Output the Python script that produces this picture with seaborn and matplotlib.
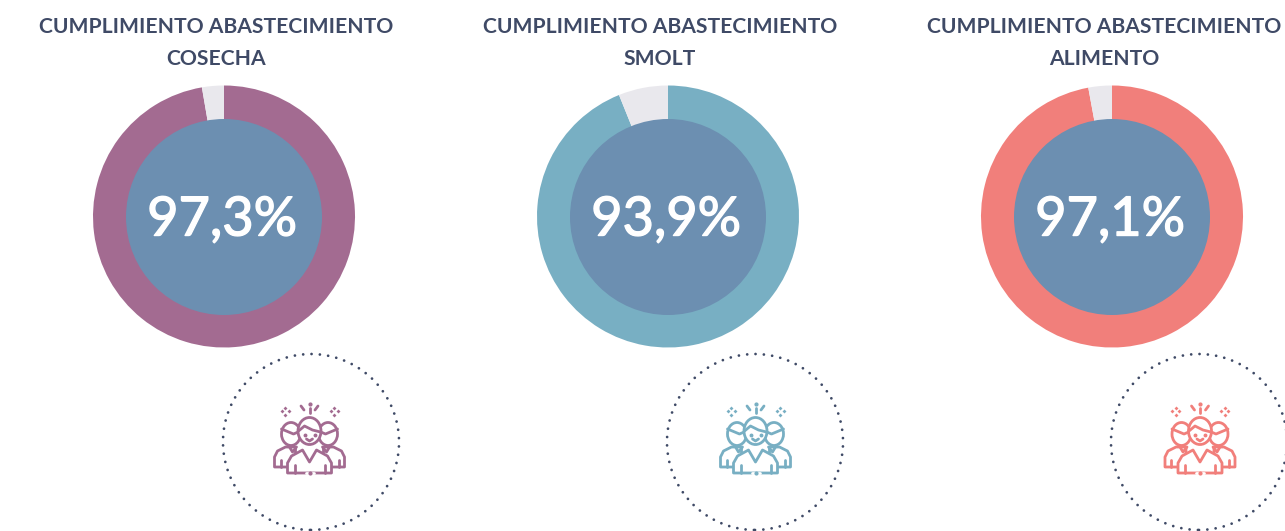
import matplotlib
matplotlib.use("Agg")
import matplotlib.pyplot as plt
import matplotlib.patheffects as pe
import seaborn as sns
from matplotlib.patches import Circle, Ellipse, Polygon

titles_top = ["CUMPLIMIENTO ABASTECIMIENTO"] * 3
titles_bottom = ["COSECHA", "SMOLT", "ALIMENTO"]
cumplimiento = [97.3, 93.9, 97.1]
colores = ["#A36B91", "#78AFC3", "#F17F7B"]

sns.set_theme(style="white")
plt.rcParams["font.family"] = ["Lato", "DejaVu Sans"]

AZUL = "#6C8FB1"
GRIS = "#E9E8ED"
TEXTO = "#3F4A66"
ALTO = 531


def y_(py):
    # la referencia se mide en pixeles desde arriba
    return ALTO - py


def icono(ax, cx, color):
    lw = 2.0

    def forma(puntos, z):
        xy = [(cx + x, y_(y)) for x, y in puntos]
        ax.add_patch(Polygon(xy, closed=True, fc="white", ec=color, lw=lw, joinstyle="round", zorder=z))

    def linea(xs, ys, z):
        ax.plot([cx + x for x in xs], [y_(y) for y in ys], color=color, lw=lw,
                solid_capstyle="round", solid_joinstyle="round", zorder=z)

    # personas de los lados
    for s in (-1, 1):
        forma([(s * 35, 467), (s * 35, 457), (s * 32, 451), (s * 24, 447), (s * 14, 447), (s * 14, 467)], 3)
        linea([s * 29, s * 29], [467, 460], 3)
        ax.add_patch(Ellipse((cx + s * 18.5, y_(434)), 19, 23, fc="white", ec=color, lw=lw, zorder=4))
        linea([s * 9, s * 16, s * 28], [431, 434, 429], 4)
        linea([s * 13, s * 17, s * 20], [447, 452, 447], 4)

    # persona central
    forma([(-22, 473), (-22, 463), (-18, 456), (-7, 450), (0, 462), (7, 450), (18, 456), (22, 463), (22, 473)], 5)
    linea([-15, -15], [465, 473], 6)
    linea([15, 15], [465, 473], 6)
    linea([-4, 4], [473, 473], 6)
    ax.lines[-1].set_color("white")
    ax.plot([cx], [y_(473)], "o", ms=2, color=color, zorder=7)
    ax.add_patch(Ellipse((cx, y_(431)), 23, 27, fc="white", ec=color, lw=lw, zorder=6))
    linea([-11, -5, 3, 11], [431, 426, 430, 432], 7)
    ax.plot([cx - 5, cx + 5], [y_(435), y_(435)], "o", ms=1.8, color=color, zorder=7)
    linea([-3, 0, 3], [439, 441, 439], 7)

    # destellos de arriba
    linea([0, 0], [408, 413], 3)
    ax.plot([cx], [y_(404)], "o", ms=2, color=color)
    linea([-8.5, -5.5], [406, 410], 3)
    linea([8.5, 5.5], [406, 410], 3)
    for s in (-1, 1):
        sx = cx + s * 24.5
        for dx, dy in [(-3.5, 0), (3.5, 0), (0, -3.5), (0, 3.5)]:
            ax.plot([sx + dx], [y_(411 + dy)], "D", ms=2.0, color=color, mew=0)


fig = plt.figure(figsize=(12.85, 5.31), dpi=100)
ax = fig.add_axes([0, 0, 1, 1])

centros_x = [224, 668, 1112]
titulos_x = [216, 660, 1104]
aro_x = [311, 755, 1199]
icono_x = [309.5, 755.5, 1200]

for i, valor in enumerate(cumplimiento):
    ax.pie([valor, 100 - valor], colors=[colores[i], GRIS], startangle=90, counterclock=False,
           center=(centros_x[i], y_(216.5)), radius=131, wedgeprops={"linewidth": 0})
    ax.add_patch(Circle((centros_x[i], y_(217)), 98, fc=AZUL, ec="none", zorder=2))
    t = ax.text(centros_x[i] - 2, y_(220), f"{valor:.1f}%".replace(".", ","), color="white",
                fontsize=39, ha="center", va="center", zorder=3)
    t.set_path_effects([pe.withStroke(linewidth=1.0, foreground="white")])
    ax.text(titulos_x[i], y_(27), titles_top[i], color=TEXTO, fontsize=15.2, fontweight="bold",
            ha="center", va="center")
    ax.text(titulos_x[i], y_(59), titles_bottom[i], color=TEXTO, fontsize=15.2, fontweight="bold",
            ha="center", va="center")
    ax.add_patch(Circle((aro_x[i], y_(442)), 88, fc="none", ec=TEXTO, lw=2.0, capstyle="round",
                        linestyle=(0, (0.01, 3.0)), zorder=2))
    icono(ax, icono_x[i], colores[i])

ax.set_xlim(0, 1285)
ax.set_ylim(0, ALTO)
ax.set_aspect("auto")
ax.axis("off")

fig.savefig("out.png", dpi=100, facecolor="white")
